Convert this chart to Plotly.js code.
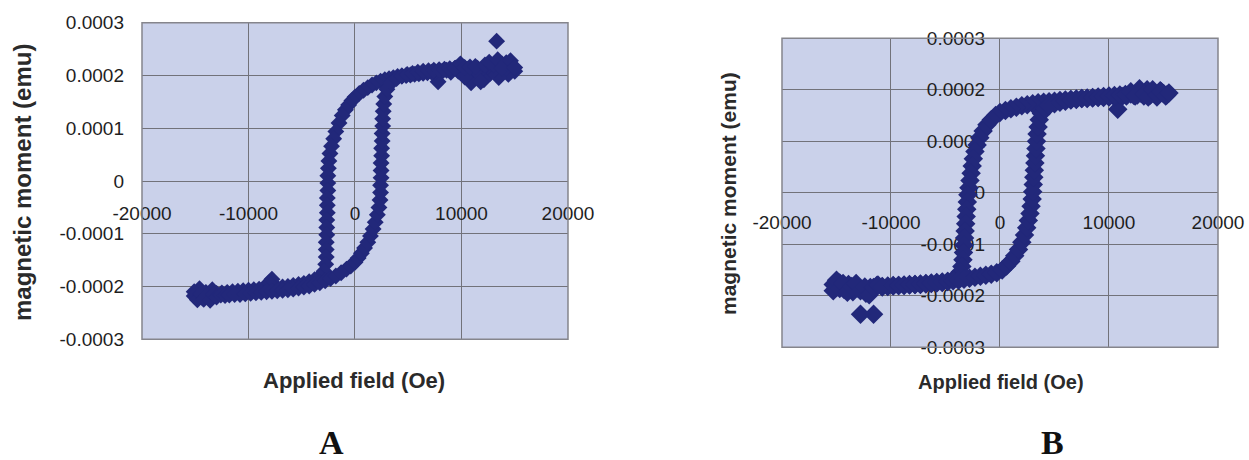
<!DOCTYPE html>
<html><head><meta charset="utf-8">
<script src="https://cdn.plot.ly/plotly-3.0.1.min.js"></script>
<style>html,body{margin:0;padding:0;background:#fff}#chart{width:1249px;height:460px}</style>
</head><body><div id="chart"></div>
<script>
// ---- Panel A data (field in Oe, moment in emu) ----
const fieldA_down = [15000,14700,14400,14100,13800,13500,13300,13000,12700,12400,12100,11800,11500,11200,10900,10600,10300,10000,9700,9400,9000,8600,8200,7800,7500,7200,6800,6400,6000,5600,5200,4800,4400,4000,3600,3200,2800,2400,2000,1600,1200,800,400,0,-300,-600,-900,-1200,-1500,-1800,-2000,-2200,-2350,-2450,-2500,-2550,-2550,-2550,-2600,-2600,-2600,-2650,-2650,-2650,-2700,-2700,-2700,-2750,-2900,-3300,-3800,-4300,-4800,-5300,-5800,-6300,-6800,-7300,-7800,-8100,-8500,-9000,-9500,-10000,-10500,-11000,-11500,-12000,-12500,-13000,-13400,-13700,-14000,-14300,-14600,-14900,-15100];
const momentA_down = [2.08e-4,2.18e-4,2.02e-4,2.12e-4,2.22e-4,1.96e-4,2.65e-4,2.10e-4,2.04e-4,2.16e-4,1.92e-4,2.10e-4,2.14e-4,2.05e-4,1.86e-4,2.12e-4,1.97e-4,2.18e-4,2.08e-4,2.14e-4,2.06e-4,2.10e-4,2.08e-4,1.88e-4,2.07e-4,2.06e-4,2.05e-4,2.04e-4,2.03e-4,2.02e-4,2.01e-4,2.00e-4,1.99e-4,1.98e-4,1.96e-4,1.94e-4,1.92e-4,1.89e-4,1.86e-4,1.82e-4,1.77e-4,1.72e-4,1.66e-4,1.59e-4,1.52e-4,1.44e-4,1.35e-4,1.24e-4,1.10e-4,0.94e-4,0.80e-4,0.66e-4,0.52e-4,0.38e-4,0.24e-4,0.10e-4,-0.04e-4,-0.18e-4,-0.32e-4,-0.46e-4,-0.60e-4,-0.74e-4,-0.88e-4,-1.02e-4,-1.16e-4,-1.30e-4,-1.44e-4,-1.58e-4,-1.71e-4,-1.81e-4,-1.87e-4,-1.91e-4,-1.94e-4,-1.96e-4,-1.98e-4,-2.00e-4,-2.01e-4,-2.02e-4,-1.86e-4,-1.93e-4,-2.04e-4,-2.05e-4,-2.06e-4,-2.07e-4,-2.08e-4,-2.09e-4,-2.10e-4,-2.11e-4,-2.12e-4,-2.13e-4,-2.06e-4,-2.19e-4,-2.11e-4,-2.22e-4,-2.04e-4,-2.16e-4,-2.10e-4];
const fieldA_up = [-15100,-14800,-14500,-14200,-13900,-13600,-13300,-13000,-12600,-12200,-11800,-11300,-10800,-10300,-9800,-9300,-8800,-8300,-7800,-7300,-6800,-6300,-5800,-5300,-4800,-4300,-3800,-3300,-2800,-2300,-1800,-1300,-800,-400,0,300,600,900,1200,1450,1700,1900,2100,2250,2350,2400,2400,2450,2450,2450,2500,2500,2550,2550,2600,2600,2650,2700,2800,3000,3400,3900,4400,4900,5400,5900,6400,6900,7400,7900,8400,8900,9400,9900,10300,10800,11300,11800,12200,12600,13000,13400,13800,14200,14600,15000];
const momentA_up = [-2.18e-4,-2.25e-4,-2.14e-4,-2.24e-4,-2.17e-4,-2.26e-4,-2.15e-4,-2.20e-4,-2.16e-4,-2.17e-4,-2.16e-4,-2.15e-4,-2.15e-4,-2.14e-4,-2.13e-4,-2.12e-4,-2.11e-4,-2.10e-4,-2.09e-4,-2.08e-4,-2.07e-4,-2.06e-4,-2.05e-4,-2.03e-4,-2.01e-4,-1.99e-4,-1.96e-4,-1.93e-4,-1.89e-4,-1.85e-4,-1.80e-4,-1.74e-4,-1.67e-4,-1.61e-4,-1.54e-4,-1.46e-4,-1.37e-4,-1.27e-4,-1.16e-4,-1.04e-4,-0.91e-4,-0.78e-4,-0.64e-4,-0.50e-4,-0.36e-4,-0.22e-4,-0.08e-4,0.06e-4,0.20e-4,0.34e-4,0.48e-4,0.62e-4,0.76e-4,0.90e-4,1.04e-4,1.18e-4,1.32e-4,1.46e-4,1.60e-4,1.74e-4,1.86e-4,1.94e-4,1.99e-4,2.02e-4,2.04e-4,2.06e-4,2.08e-4,2.09e-4,2.10e-4,2.11e-4,2.12e-4,2.13e-4,2.14e-4,2.22e-4,2.15e-4,2.16e-4,2.17e-4,1.88e-4,2.20e-4,2.25e-4,2.20e-4,2.30e-4,2.14e-4,2.24e-4,2.28e-4,2.15e-4];

// ---- Panel B data ----
const fieldB_down = [15300,15000,14700,14400,14100,13800,13500,13200,12900,12600,12300,12000,11600,11200,10800,10500,10000,9500,9000,8500,8000,7500,7000,6500,6000,5500,5000,4500,4000,3500,3000,2500,2000,1500,1000,500,0,-400,-800,-1200,-1550,-1850,-2100,-2300,-2450,-2550,-2650,-2750,-2850,-2950,-3000,-3050,-3100,-3150,-3200,-3250,-3300,-3350,-3400,-3500,-3650,-3900,-4300,-4800,-5300,-5800,-6300,-6800,-7300,-7800,-8300,-8800,-9300,-9800,-10300,-10800,-11300,-11600,-11900,-12300,-12800,-13100,-13500,-13900,-14300,-14700,-15000,-15300];
const momentB_down = [1.90e-4,1.93e-4,1.98e-4,1.86e-4,1.95e-4,1.90e-4,2.00e-4,1.88e-4,1.94e-4,1.90e-4,1.89e-4,1.92e-4,1.88e-4,1.87e-4,1.62e-4,1.86e-4,1.86e-4,1.85e-4,1.85e-4,1.84e-4,1.83e-4,1.83e-4,1.82e-4,1.81e-4,1.80e-4,1.79e-4,1.78e-4,1.77e-4,1.76e-4,1.75e-4,1.73e-4,1.71e-4,1.69e-4,1.66e-4,1.63e-4,1.60e-4,1.56e-4,1.50e-4,1.42e-4,1.32e-4,1.20e-4,1.07e-4,0.93e-4,0.80e-4,0.66e-4,0.52e-4,0.38e-4,0.24e-4,0.10e-4,-0.04e-4,-0.18e-4,-0.32e-4,-0.46e-4,-0.60e-4,-0.74e-4,-0.88e-4,-1.02e-4,-1.16e-4,-1.30e-4,-1.43e-4,-1.54e-4,-1.62e-4,-1.68e-4,-1.72e-4,-1.74e-4,-1.75e-4,-1.76e-4,-1.77e-4,-1.78e-4,-1.78e-4,-1.79e-4,-1.80e-4,-1.80e-4,-1.81e-4,-1.82e-4,-1.82e-4,-1.80e-4,-2.36e-4,-1.84e-4,-1.95e-4,-2.36e-4,-1.85e-4,-1.92e-4,-1.78e-4,-1.88e-4,-1.75e-4,-1.84e-4,-1.90e-4];
const fieldB_up = [-15300,-15000,-14700,-14400,-14000,-13600,-13200,-12800,-12400,-12000,-11600,-11200,-10800,-10300,-9800,-9300,-8800,-8300,-7800,-7300,-6800,-6300,-5800,-5300,-4800,-4300,-3800,-3300,-2800,-2300,-1800,-1300,-800,-300,200,600,1000,1350,1700,2000,2250,2450,2600,2750,2850,2950,3000,3050,3100,3150,3200,3250,3300,3350,3400,3500,3600,3800,4100,4500,5000,5500,6000,6500,7000,7500,8000,8500,9000,9500,10000,10500,11000,11500,12000,12400,12800,13200,13600,14000,14400,14800,15200,15500];
const momentB_up = [-1.78e-4,-1.70e-4,-1.86e-4,-1.76e-4,-1.93e-4,-1.82e-4,-1.76e-4,-1.90e-4,-1.83e-4,-1.98e-4,-1.84e-4,-1.79e-4,-1.83e-4,-1.81e-4,-1.80e-4,-1.80e-4,-1.79e-4,-1.78e-4,-1.78e-4,-1.77e-4,-1.76e-4,-1.75e-4,-1.74e-4,-1.73e-4,-1.72e-4,-1.71e-4,-1.70e-4,-1.68e-4,-1.66e-4,-1.64e-4,-1.62e-4,-1.60e-4,-1.58e-4,-1.55e-4,-1.50e-4,-1.42e-4,-1.33e-4,-1.22e-4,-1.10e-4,-0.96e-4,-0.82e-4,-0.68e-4,-0.54e-4,-0.40e-4,-0.26e-4,-0.12e-4,0.02e-4,0.16e-4,0.30e-4,0.44e-4,0.58e-4,0.72e-4,0.86e-4,1.00e-4,1.14e-4,1.28e-4,1.42e-4,1.54e-4,1.63e-4,1.69e-4,1.73e-4,1.76e-4,1.78e-4,1.80e-4,1.81e-4,1.83e-4,1.84e-4,1.85e-4,1.86e-4,1.87e-4,1.88e-4,1.89e-4,1.90e-4,1.91e-4,1.96e-4,1.88e-4,2.02e-4,1.92e-4,1.86e-4,2.00e-4,1.90e-4,1.96e-4,1.88e-4,1.94e-4];

// ---- Ticks and labels ----
const xTickVals = [-20000,-10000,0,10000,20000];
const xTickText = ["-20000","-10000","0","10000","20000"];
const yTickVals = [-0.0003,-0.0002,-0.0001,0,0.0001,0.0002,0.0003];
const yTickText = ["-0.0003","-0.0002","-0.0001","0","0.0001","0.0002","0.0003"];
const xTitle = "Applied field (Oe)";
const yTitle = "magnetic moment (emu)";
const panelLabels = ["A","B"];

const markerColor = "#22287a";
const tickFont = {family:"Liberation Sans, Arial, sans-serif", size:19, color:"#1e1e1e"};
function tFont(s) { return {family:"Liberation Sans, Arial, sans-serif", size:s, color:"#2a2a2a", weight:"bold"}; }
const letterFont = {family:"Liberation Serif, Times New Roman, serif", size:34, color:"#111", weight:"bold"};

function tr(x, y, xa, ya, size) {
  return {type:"scatter", mode:"markers", x:x, y:y, xaxis:xa, yaxis:ya,
    marker:{symbol:"diamond", size:size, color:markerColor, line:{width:0}},
    showlegend:false, hoverinfo:"skip"};
}
const data = [
  tr(fieldA_down, momentA_down, "x", "y", 13),
  tr(fieldA_up, momentA_up, "x", "y", 13),
  tr(fieldB_down, momentB_down, "x2", "y2", 15),
  tr(fieldB_up, momentB_up, "x2", "y2", 15)
];

const gridColor = "#72727a";
function xAx(domain, pos, standoff) {
  return {domain:domain, range:[-20000,20000], autorange:false, anchor:"free", position:pos,
    tickmode:"array", tickvals:xTickVals, ticktext:xTickText, showgrid:true, gridcolor:gridColor, gridwidth:1,
    zeroline:false, showline:false, ticks:"", ticklabelstandoff:standoff, tickfont:tickFont, layer:"below traces", fixedrange:true};
}
function yAx(domain, anchor, pos, standoff) {
  const a = {domain:domain, range:[-0.0003,0.0003], autorange:false, anchor:anchor,
    tickmode:"array", tickvals:yTickVals, ticktext:yTickText, showgrid:true, gridcolor:gridColor, gridwidth:1,
    zeroline:false, showline:false, ticks:"", ticklabelstandoff:standoff, tickfont:tickFont, layer:"below traces", fixedrange:true};
  if (pos !== undefined) a.position = pos;
  return a;
}

const domAx = [0.11369,0.45476], domAy = [0.26239,0.95065];
const domBx = [0.62610,0.97518], domBy = [0.24500,0.91674];

const layout = {
  width:1249, height:460, margin:{l:0, r:0, t:0, b:0},
  paper_bgcolor:"#ffffff", plot_bgcolor:"#cad1ea",
  xaxis: xAx(domAx, 0.60652, 19),
  yaxis: yAx(domAy, "x", undefined, 17),
  xaxis2: xAx(domBx, 0.58087, 16),
  yaxis2: yAx(domBy, "free", 0.80064, 15),
  shapes: [
    {type:"rect", xref:"paper", yref:"paper", x0:domAx[0], x1:domAx[1], y0:domAy[0], y1:domAy[1], line:{color:"#85858c", width:1.5}, layer:"above"},
    {type:"rect", xref:"paper", yref:"paper", x0:domBx[0], x1:domBx[1], y0:domBy[0], y1:domBy[1], line:{color:"#85858c", width:1.5}, layer:"above"}
  ],
  annotations: [
    {xref:"paper", yref:"paper", x:22/1249, y:1-183/460, text:yTitle, textangle:-90, showarrow:false, xanchor:"center", yanchor:"middle", font:tFont(24)},
    {xref:"paper", yref:"paper", x:354/1249, y:1-380/460, text:xTitle, showarrow:false, xanchor:"center", yanchor:"middle", font:tFont(22)},
    {xref:"paper", yref:"paper", x:728/1249, y:1-193/460, text:yTitle, textangle:-90, showarrow:false, xanchor:"center", yanchor:"middle", font:tFont(21)},
    {xref:"paper", yref:"paper", x:1001/1249, y:1-382/460, text:xTitle, showarrow:false, xanchor:"center", yanchor:"middle", font:tFont(20)},
    {xref:"paper", yref:"paper", x:331/1249, y:1-442/460, text:panelLabels[0], showarrow:false, xanchor:"center", yanchor:"middle", font:letterFont},
    {xref:"paper", yref:"paper", x:1052/1249, y:1-442/460, text:panelLabels[1], showarrow:false, xanchor:"center", yanchor:"middle", font:letterFont}
  ]
};

Plotly.newPlot("chart", data, layout, {staticPlot:true, displayModeBar:false});
</script>
</body></html>
